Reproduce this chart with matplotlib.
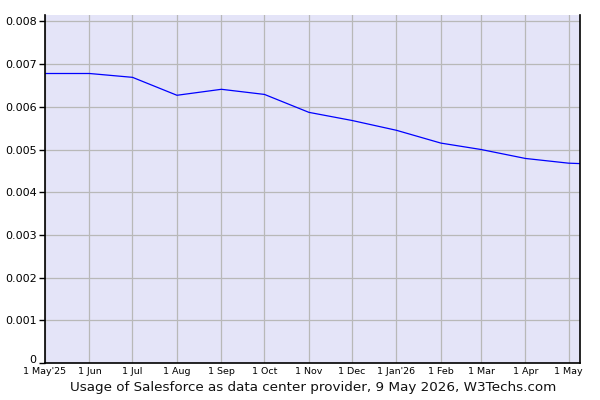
import matplotlib
matplotlib.use("Agg")
import matplotlib.pyplot as plt
import matplotlib.transforms as mtransforms
from datetime import datetime

dates = ["2025-05-01", "2025-06-01", "2025-07-01", "2025-08-01", "2025-09-01",
         "2025-10-01", "2025-11-01", "2025-12-01", "2026-01-01", "2026-02-01",
         "2026-03-01", "2026-04-01", "2026-05-01", "2026-05-09"]
usage = [0.00678, 0.00678, 0.00669, 0.00627, 0.00641, 0.00629, 0.00587,
         0.00568, 0.00545, 0.00515, 0.00500, 0.00479, 0.00468, 0.00467]
tick_dates = ["2025-05-01", "2025-06-01", "2025-07-01", "2025-08-01", "2025-09-01",
              "2025-10-01", "2025-11-01", "2025-12-01", "2026-01-01", "2026-02-01",
              "2026-03-01", "2026-04-01", "2026-05-01"]
tick_labels = ["1 May'25", "1 Jun", "1 Jul", "1 Aug", "1 Sep", "1 Oct", "1 Nov",
               "1 Dec", "1 Jan'26", "1 Feb", "1 Mar", "1 Apr", "1 May"]
yticks = [0, 0.001, 0.002, 0.003, 0.004, 0.005, 0.006, 0.007, 0.008]
ylabels = ["0", "0.001", "0.002", "0.003", "0.004", "0.005", "0.006", "0.007", "0.008"]
title = "Usage of Salesforce as data center provider, 9 May 2026, W3Techs.com"

x = [datetime.strptime(d, "%Y-%m-%d") for d in dates]
tx = [datetime.strptime(d, "%Y-%m-%d") for d in tick_dates]

fig = plt.figure(figsize=(6, 4), dpi=100)
ax = fig.add_axes([45/600, 1-363/400, 535/600, 348/400])
ax.set_facecolor("#e4e4f8")
ax.plot(x, usage, color="#0000ff", linewidth=0.9)
ax.set_xlim(datetime(2025, 5, 1), datetime(2026, 5, 9))
ax.set_ylim(0, 0.00815)

ax.set_xticks(tx)
ax.set_xticklabels(tick_labels, fontsize=6.8)
ax.set_yticks(yticks)
ax.set_yticklabels(ylabels, fontsize=8)
ax.grid(True, color="#b8b8b8", linewidth=0.9)
ax.set_axisbelow(True)
ax.tick_params(axis="x", length=0, pad=3)
ax.tick_params(axis="y", length=4, width=1, pad=2, color="black")

# lift the "0" label a little so it sits above the date labels
lbl0 = ax.get_yticklabels()[0]
lbl0.set_transform(lbl0.get_transform() + mtransforms.ScaledTranslation(0, 4/100, fig.dpi_scale_trans))

ax.spines["top"].set_visible(False)
for s in ["left", "right", "bottom"]:
    ax.spines[s].set_color("black")
    ax.spines[s].set_linewidth(1.2)

fig.text(313/600, 1-387/400, title, ha="center", va="center", fontsize=9.7, color="#111111")

fig.savefig("out.png", dpi=100)
